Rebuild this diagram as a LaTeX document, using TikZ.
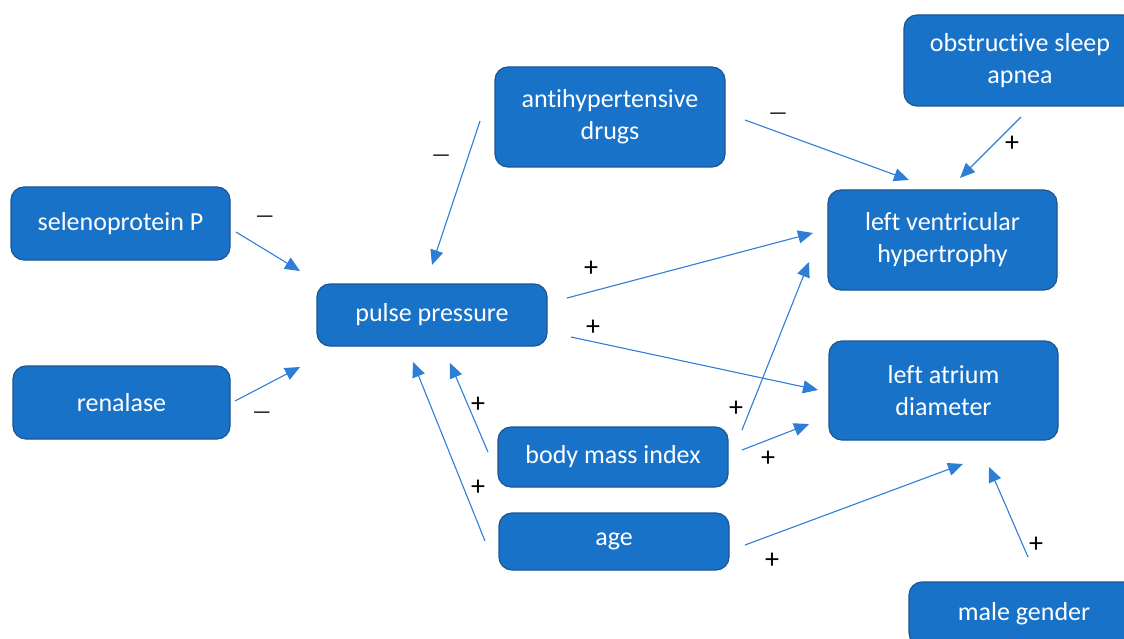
\documentclass[tikz,border=0pt]{standalone}
\usepackage{fontspec}
\setmainfont{Carlito}[Ligatures=NoCommon]
\usetikzlibrary{arrows.meta}
\definecolor{boxfill}{RGB}{24,114,200}
\definecolor{boxline}{RGB}{30,84,145}
\definecolor{arrowc}{RGB}{47,126,214}
\tikzset{
  box/.style={draw=boxline, line width=1.2pt, fill=boxfill, rounded corners=13pt,
    text=white, align=center, font=\fontsize{26}{32}\selectfont, inner sep=0pt},
  link/.style={draw=arrowc, line width=1.1pt, -{Triangle[length=15pt,width=13pt]}},
  sign/.style={font=\fontsize{28}{30}\selectfont, text=black, inner sep=0pt},
  neg/.style={font=\fontsize{21}{24}\selectfont, text=black, inner sep=0pt}
}
\begin{document}
\begin{tikzpicture}[x=1pt,y=-1pt]
\useasboundingbox (0,0) rectangle (1124,639);
% boxes
\node[box, minimum width=219, minimum height=73] (sel) at (120.5,223.5) {selenoprotein P};
\node[box, minimum width=217, minimum height=73] (ren) at (121.5,402.5) {renalase};
\node[box, minimum width=230, minimum height=62] (pp) at (432,315) {pulse pressure};
\node[box, minimum width=230, minimum height=100] (ahd) at (610,117) {antihypertensive\\drugs};
\node[box, minimum width=232, minimum height=91] (osa) at (1020,60.5) {obstructive sleep\\apnea};
\node[box, minimum width=229, minimum height=100] (lvh) at (942.5,240) {left ventricular\\hypertrophy};
\node[box, minimum width=229, minimum height=99] (lad) at (943.5,390.5) {left atrium\\diameter};
\node[box, minimum width=230, minimum height=60] (bmi) at (613,457) {body mass index};
\node[box, minimum width=230, minimum height=57] (age) at (614,541.5) {age};
\node[box, minimum width=230, minimum height=64] (male) at (1024,614) {male gender};
% connector ends
\coordinate (s1) at (236,232);  \coordinate (e1) at (300,271);
\coordinate (s2) at (235,401);  \coordinate (e2) at (300,367);
\coordinate (s3) at (480,121);  \coordinate (e3) at (432,265);
\coordinate (s4) at (745,120);  \coordinate (e4) at (909,180);
\coordinate (s5) at (1021,117); \coordinate (e5) at (960,178);
\coordinate (s6) at (567,298);  \coordinate (e6) at (813,233);
\coordinate (s7) at (571,337);  \coordinate (e7) at (818,390);
\coordinate (s8) at (742,430);  \coordinate (e8) at (809,262);
\coordinate (s9) at (742,450);  \coordinate (e9) at (809,424);
\coordinate (s10) at (488,452); \coordinate (e10) at (450,363);
\coordinate (s11) at (485,541); \coordinate (e11) at (413,362);
\coordinate (s12) at (745,545); \coordinate (e12) at (963,464);
\coordinate (s13) at (1028,557); \coordinate (e13) at (989,467);
% connectors
\foreach \i in {1,...,13} \draw[link] (s\i) -- (e\i);
% signs
\node[neg] (g1) at (265,219) {—};
\node[neg] (g2) at (262,415) {—};
\node[neg] (g3) at (441,158) {—};
\node[neg] (g4) at (778,116) {—};
\node[sign] (g5) at (1012,144) {+};
\node[sign] (g6) at (591,269) {+};
\node[sign] (g7) at (593,328) {+};
\node[sign] (g8) at (736,409) {+};
\node[sign] (g9) at (768,459) {+};
\node[sign] (g10) at (478,405) {+};
\node[sign] (g11) at (478,488) {+};
\node[sign] (g12) at (772,561) {+};
\node[sign] (g13) at (1036,545) {+};
\end{tikzpicture}
\end{document}
